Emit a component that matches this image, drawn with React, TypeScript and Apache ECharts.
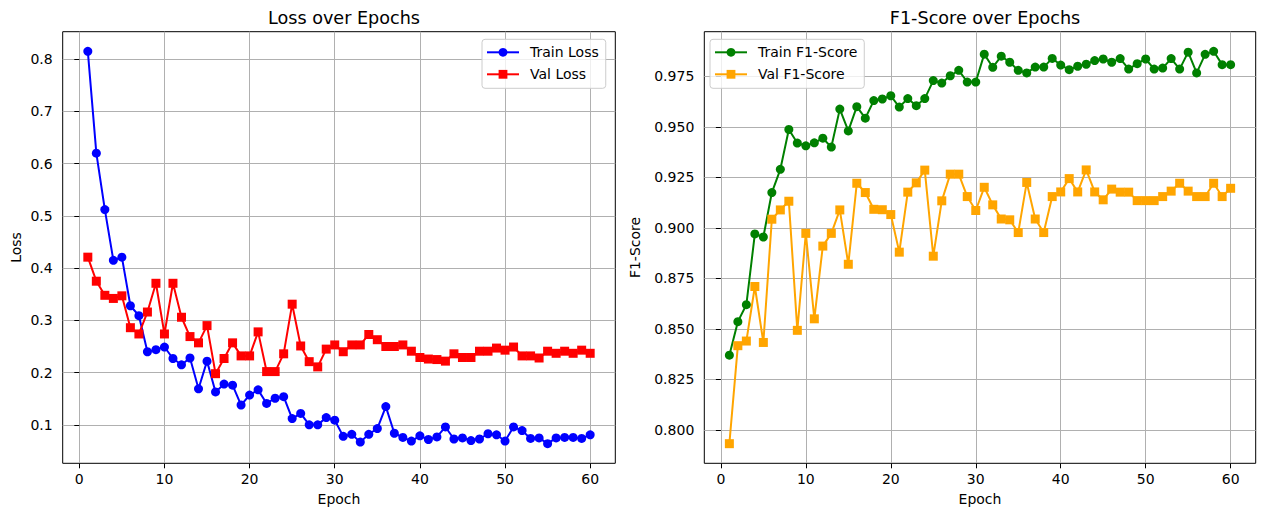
import React, { useEffect, useRef } from "react";
import * as echarts from "echarts";

const epochs = [1, 2, 3, 4, 5, 6, 7, 8, 9, 10, 11, 12, 13, 14, 15, 16, 17, 18, 19, 20, 21, 22, 23, 24, 25, 26, 27, 28, 29, 30, 31, 32, 33, 34, 35, 36, 37, 38, 39, 40, 41, 42, 43, 44, 45, 46, 47, 48, 49, 50, 51, 52, 53, 54, 55, 56, 57, 58, 59, 60];

const trainLoss = [0.815, 0.620, 0.512, 0.415, 0.421, 0.328, 0.309, 0.240, 0.244, 0.249, 0.227, 0.215, 0.228, 0.169, 0.222, 0.163, 0.178, 0.176, 0.138, 0.157, 0.167, 0.141, 0.151, 0.154, 0.112, 0.122, 0.100, 0.100, 0.114, 0.109, 0.078, 0.082, 0.067, 0.082, 0.093, 0.135, 0.084, 0.076, 0.069, 0.079, 0.072, 0.077, 0.096, 0.073, 0.075, 0.070, 0.073, 0.083, 0.081, 0.069, 0.096, 0.089, 0.074, 0.075, 0.064, 0.075, 0.076, 0.076, 0.074, 0.081];

const valLoss = [0.421, 0.375, 0.348, 0.342, 0.347, 0.286, 0.274, 0.316, 0.371, 0.274, 0.371, 0.306, 0.269, 0.257, 0.290, 0.198, 0.227, 0.257, 0.232, 0.232, 0.278, 0.202, 0.202, 0.236, 0.331, 0.251, 0.221, 0.211, 0.245, 0.253, 0.240, 0.253, 0.253, 0.273, 0.263, 0.250, 0.250, 0.253, 0.241, 0.229, 0.226, 0.225, 0.222, 0.236, 0.229, 0.229, 0.241, 0.241, 0.247, 0.243, 0.249, 0.232, 0.232, 0.228, 0.241, 0.237, 0.241, 0.237, 0.243, 0.237];

const trainF1 = [0.837, 0.8536, 0.862, 0.897, 0.8955, 0.9175, 0.929, 0.9487, 0.942, 0.9406, 0.9421, 0.9444, 0.940, 0.9588, 0.948, 0.960, 0.9543, 0.963, 0.9638, 0.9654, 0.9598, 0.964, 0.9605, 0.964, 0.9729, 0.9717, 0.9753, 0.978, 0.9722, 0.9722, 0.986, 0.9795, 0.985, 0.982, 0.978, 0.9767, 0.9796, 0.9796, 0.9839, 0.9806, 0.9783, 0.980, 0.981, 0.9828, 0.9836, 0.982, 0.9838, 0.9786, 0.9813, 0.9836, 0.9786, 0.9791, 0.9838, 0.9786, 0.987, 0.9767, 0.9859, 0.9874, 0.9808, 0.9808];

const valF1 = [0.7932, 0.8417, 0.844, 0.871, 0.8433, 0.9043, 0.9089, 0.9132, 0.8493, 0.8973, 0.855, 0.891, 0.8973, 0.9089, 0.882, 0.9221, 0.9175, 0.9092, 0.909, 0.9066, 0.888, 0.9177, 0.9223, 0.9286, 0.886, 0.9134, 0.9266, 0.9266, 0.9155, 0.9086, 0.9201, 0.9114, 0.9044, 0.904, 0.8977, 0.9225, 0.9044, 0.8977, 0.9155, 0.9178, 0.9244, 0.9178, 0.9287, 0.9178, 0.9139, 0.9192, 0.9177, 0.9177, 0.9135, 0.9135, 0.9135, 0.9155, 0.9182, 0.9221, 0.9182, 0.9155, 0.9155, 0.9221, 0.9155, 0.9196];

const xTicks = [0, 10, 20, 30, 40, 50, 60];
const lossTicks = [0.1, 0.2, 0.3, 0.4, 0.5, 0.6, 0.7, 0.8];
const f1Ticks = [0.8, 0.825, 0.85, 0.875, 0.9, 0.925, 0.95, 0.975];

const FONT = "DejaVu Sans";

function pad(values: number[][]) {
  const all = values.flat();
  const lo = Math.min(...all);
  const hi = Math.max(...all);
  const m = (hi - lo) * 0.05;
  return [lo - m, hi + m];
}

export default function App() {
  const ref = useRef<HTMLDivElement>(null);
  useEffect(() => {
    if (!ref.current) return;
    const chart = echarts.init(ref.current, null, { renderer: "svg" });
    const xMin = epochs[0] - (epochs[epochs.length - 1] - epochs[0]) * 0.05;
    const xMax = epochs[epochs.length - 1] + (epochs[epochs.length - 1] - epochs[0]) * 0.05;
    const [lMin, lMax] = pad([trainLoss, valLoss]);
    const [fMin, fMax] = pad([trainF1, valF1]);
    const toPts = (arr: number[]) => epochs.map((e, i) => [e, arr[i]]);

    const gridCommon = {
      show: true,
      borderColor: "#000",
      borderWidth: 1,
      backgroundColor: "#fff",
      top: 31.7,
      height: 431.6,
    };
    const axisText = { color: "#000", fontFamily: FONT, fontSize: 14 };
    const mkX = (gridIndex: number) => ({
      type: "value",
      gridIndex,
      min: xMin,
      max: xMax,
      name: "Epoch",
      nameLocation: "middle",
      nameGap: 29,
      nameTextStyle: { ...axisText },
      axisLine: { show: false },
      axisTick: { show: true, inside: false, length: 5, customValues: xTicks, lineStyle: { color: "#000", width: 1 } },
      axisLabel: { ...axisText, margin: 9, customValues: xTicks, formatter: (v: number) => String(v) },
      splitLine: { show: true, lineStyle: { color: "#b0b0b0", width: 1 } },
    });
    const mkY = (gridIndex: number, min: number, max: number, ticks: number[], name: string, gap: number, dec: number) => ({
      type: "value",
      gridIndex,
      min,
      max,
      name,
      nameLocation: "middle",
      nameGap: gap,
      nameRotate: 90,
      nameTextStyle: { ...axisText },
      axisLine: { show: false },
      axisTick: { show: true, inside: false, length: 5, customValues: ticks, lineStyle: { color: "#000", width: 1 } },
      axisLabel: { ...axisText, margin: 10, customValues: ticks, formatter: (v: number) => v.toFixed(dec) },
      splitLine: { show: true, lineStyle: { color: "#b0b0b0", width: 1 } },
    });
    const mkSeries = (name: string, data: number[], color: string, symbol: string, xi: number) => ({
      type: "line",
      name,
      xAxisIndex: xi,
      yAxisIndex: xi,
      data: toPts(data),
      symbol,
      symbolSize: 9,
      showSymbol: true,
      lineStyle: { color, width: 2 },
      itemStyle: { color, borderColor: color, borderWidth: 0 },
      clip: true,
    });
    const legendCommon = {
      orient: "vertical",
      top: 39.3,
      padding: [6, 7, 7, 4],
      backgroundColor: "rgba(255,255,255,0.8)",
      borderColor: "#cccccc",
      borderWidth: 1,
      borderRadius: 3,
      itemWidth: 32,
      itemHeight: 11,
      itemGap: 8,
      textStyle: { color: "#000", fontFamily: FONT, fontSize: 14, padding: [0, 0, 0, 6] },
    };
    const titleStyle = { color: "#000", fontFamily: FONT, fontSize: 17.6, fontWeight: "normal" };

    chart.setOption({
      animation: false,
      backgroundColor: "#fff",
      title: [
        { text: "Loss over Epochs", left: 339, top: 4, textAlign: "center", textStyle: titleStyle },
        { text: "F1-Score over Epochs", left: 980, top: 4, textAlign: "center", textStyle: titleStyle },
      ],
      legend: [
        { ...legendCommon, left: 482, data: ["Train Loss", "Val Loss"] },
        { ...legendCommon, left: 710, data: ["Train F1-Score", "Val F1-Score"] },
      ],
      grid: [
        { ...gridCommon, left: 62.7, width: 552.6 },
        { ...gridCommon, left: 704.3, width: 551.4 },
      ],
      xAxis: [mkX(0), mkX(1)],
      yAxis: [
        mkY(0, lMin, lMax, lossTicks, "Loss", 40, 1),
        mkY(1, fMin, fMax, f1Ticks, "F1-Score", 62, 3),
      ],
      series: [
        mkSeries("Train Loss", trainLoss, "#0000ff", "circle", 0),
        mkSeries("Val Loss", valLoss, "#ff0000", "rect", 0),
        mkSeries("Train F1-Score", trainF1, "#008000", "circle", 1),
        mkSeries("Val F1-Score", valF1, "#ffa500", "rect", 1),
      ],
    });
    return () => chart.dispose();
  }, []);
  return (
    <div
      ref={ref}
      style={{ position: "fixed", left: 0, top: 0, width: 1263, height: 513, background: "#fff" }}
    />
  );
}
